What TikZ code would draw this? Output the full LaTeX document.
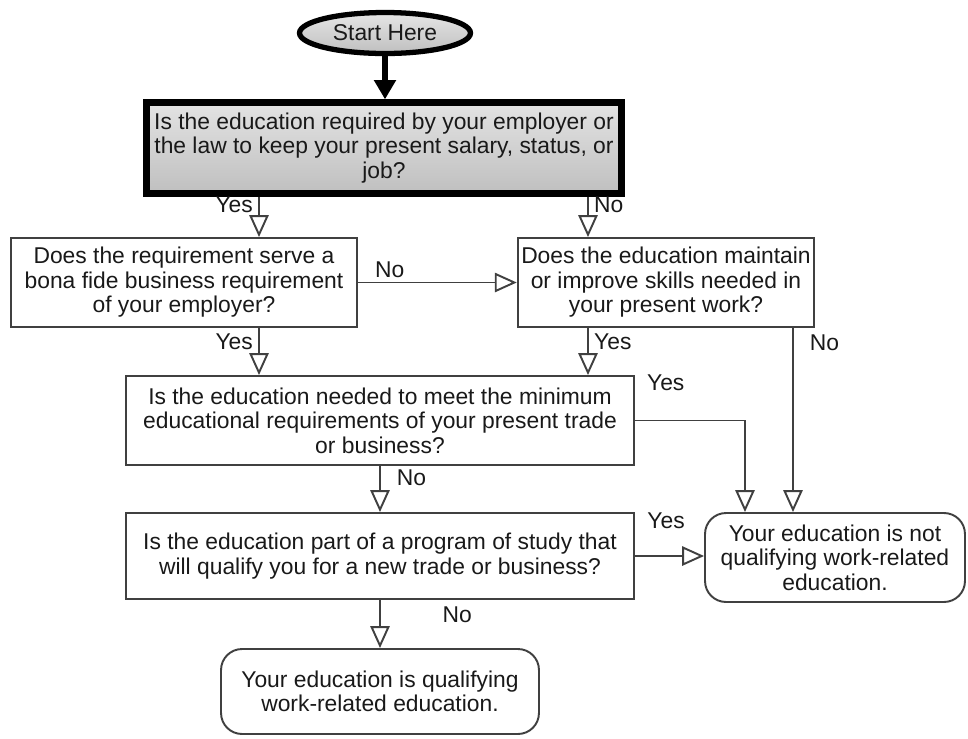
\documentclass[tikz,border=0pt]{standalone}
\usepackage{fontspec}
\setmainfont{Liberation Sans}
\usepackage{tikz}
\usetikzlibrary{arrows.meta}
\usetikzlibrary{shapes.geometric}
\tikzset{>={Triangle[open,length=12.5pt,width=11pt]}}
\usepackage{xcolor}
\colorlet{myline}{black!75}
\colorlet{mytext}{black!90}
\tikzstyle{qbox}=[rectangle,draw=myline,line width=1.1pt,align=center,text=mytext,font=\fontsize{13}{13.9}\selectfont,inner sep=2pt]
\tikzstyle{endbox}=[qbox,rounded corners=0.42cm]
\tikzstyle{flow}=[->,draw=myline,line width=1.1pt]
\tikzstyle{lbl}=[text=mytext,font=\fontsize{13}{13.9}\selectfont,inner sep=1pt]

\begin{document}
\begin{tikzpicture}[x=0.02cm,y=-0.02cm]
    \useasboundingbox (0,0) rectangle (968,738);

    \node[ellipse,draw=black,line width=3pt,top color=gray!20,bottom color=gray!50,text=mytext,font=\fontsize{13}{13.9}\selectfont,minimum width=3.42cm,minimum height=0.82cm,inner sep=1pt] (start) at (385,33) {Start Here};

    \node[qbox,draw=black,line width=3.6pt,top color=gray!22,bottom color=gray!50,minimum width=9.5cm,minimum height=1.82cm] (q1) at (384,148) {Is the education required by your employer or\\the law to keep your present salary, status, or\\job?};
    \node[qbox,minimum width=6.92cm,minimum height=1.78cm] (q2) at (184,282.5) {Does the requirement serve a\\bona fide business requirement\\of your employer?};
    \node[qbox,minimum width=5.92cm,minimum height=1.78cm] (q3) at (666,282.5) {Does the education maintain\\or improve skills needed in\\your present work?};
    \node[qbox,minimum width=10.16cm,minimum height=1.78cm] (q4) at (380,420.5) {Is the education needed to meet the minimum\\educational requirements of your present trade\\or business?};
    \node[qbox,minimum width=10.16cm,minimum height=1.72cm] (q5) at (380,556) {Is the education part of a program of study that\\will qualify you for a new trade or business?};
    \node[endbox,minimum width=5.2cm,minimum height=1.78cm] (notq) at (835,557.5) {Your education is not\\qualifying work-related\\education.};
    \node[endbox,minimum width=6.36cm,minimum height=1.7cm] (qual) at (380,691.5) {Your education is qualifying\\work-related education.};

    \coordinate (xa) at (259,0);
    \coordinate (xb) at (588,0);
    \coordinate (xd) at (745,0);
    \coordinate (xe) at (793,0);

    \draw[-{Triangle[length=11pt,width=12pt]},line width=3.4pt] (start.south) -- (start.south |- q1.north);

    \draw[flow] (q1.south -| xa) -- node[lbl,pos=0.2,left=2pt] (yes1) {Yes} (q2.north -| xa);
    \draw[flow] (q1.south -| xb) -- node[lbl,pos=0.2,right=2pt] (no1) {No} (q3.north -| xb);
    \draw[flow] (q2.east) -- node[lbl,pos=0.2,above=1pt] (no2) {No} (q3.west);
    \draw[flow] (q2.south -| xa) -- node[lbl,pos=0.3,left=2pt] (yes2) {Yes} (q4.north -| xa);
    \draw[flow] (q3.south -| xb) -- node[lbl,pos=0.3,right=2pt] (yes3) {Yes} (q4.north -| xb);
    \draw[flow] (q3.south -| xe) -- node[lbl,pos=0.08,right=8pt] (no3) {No} (notq.north -| xe);
    \draw[flow] (q4.east) -| node[lbl,pos=0.14,above=0.55cm] (yes4) {Yes} (notq.north -| xd);
    \draw[flow] (q4.south) -- node[lbl,pos=0.26,right=8pt] (no4) {No} (q5.north);
    \draw[flow] (q5.east) -- node[lbl,pos=0.45,above=0.5cm] (yes5) {Yes} (q5.east -| notq.west);
    \draw[flow] (q5.south) -- node[lbl,pos=0.31,right=1.2cm] (no5) {No} (qual.north);

\end{tikzpicture}
\end{document}
